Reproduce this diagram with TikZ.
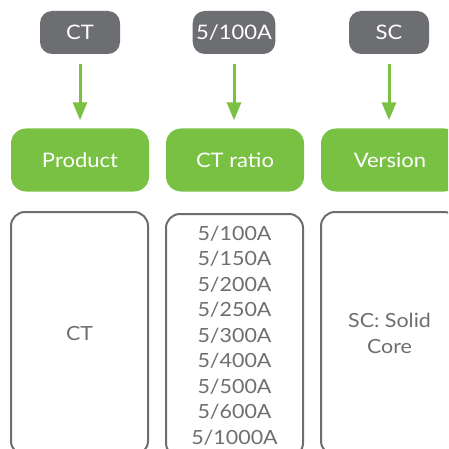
\documentclass[tikz,border=0pt]{standalone}
\usepackage{fontspec}
\setmainfont{Lato}[FakeStretch=1.1]
\usepackage{xcolor}
\usepackage{tikz}
\usetikzlibrary{arrows.meta, positioning}
\definecolor{leafgreen}{HTML}{79C143}
\definecolor{slate}{HTML}{6D6E71}

\begin{document}
\begin{tikzpicture}
  [
    x=1pt, y=-1pt,
    Tag/.style={rectangle, rounded corners=12pt, fill=slate, text=white,
      minimum width=80pt, minimum height=43pt, font=\fontsize{20}{23}\selectfont},
    Field/.style={rectangle, rounded corners=15pt, fill=leafgreen, text=white,
      minimum width=138pt, minimum height=63pt, font=\fontsize{20}{23}\selectfont},
    Choices/.style={rectangle, rounded corners=14pt, draw=slate, line width=2pt, text=slate,
      minimum width=137pt, minimum height=243pt, align=center,
      font=\fontsize{19.5}{25.5}\selectfont},
    Link/.style={-{Triangle[length=18pt, width=14pt]}, draw=leafgreen, fill=leafgreen,
      line width=3pt, shorten <=10pt, shorten >=8pt}
  ]
  \clip (0,0) rectangle (448,449);
  % Nodes
  \node[Tag] (tagCT) at (80, 32.5) {CT};
  \node[Tag] (tagRatio) at (234, 32.5) {5/100A};
  \node[Tag] (tagSC) at (389, 32.5) {SC};
  \node[Field] (product) at (80, 160) {Product};
  \node[Field] (ctratio) at (235, 160) {CT ratio};
  \node[Field] (version) at (390, 160) {Version};
  \node[Choices] (productList) at (79.5, 333.5) {CT};
  \node[Choices] (ratioList) at (234.5, 335.5)
    {5/100A\\5/150A\\5/200A\\5/250A\\5/300A\\5/400A\\5/500A\\5/600A\\5/1000A};
  \node[Choices] (versionList) at (389.5, 333.5) {SC: Solid\\Core};
  % Lines
  \path [Link] (tagCT) -- (product);
  \path [Link] (tagRatio.south) -- (tagRatio.south |- ctratio.north);
  \path [Link] (tagSC.south) -- (tagSC.south |- version.north);
\end{tikzpicture}
\end{document}
